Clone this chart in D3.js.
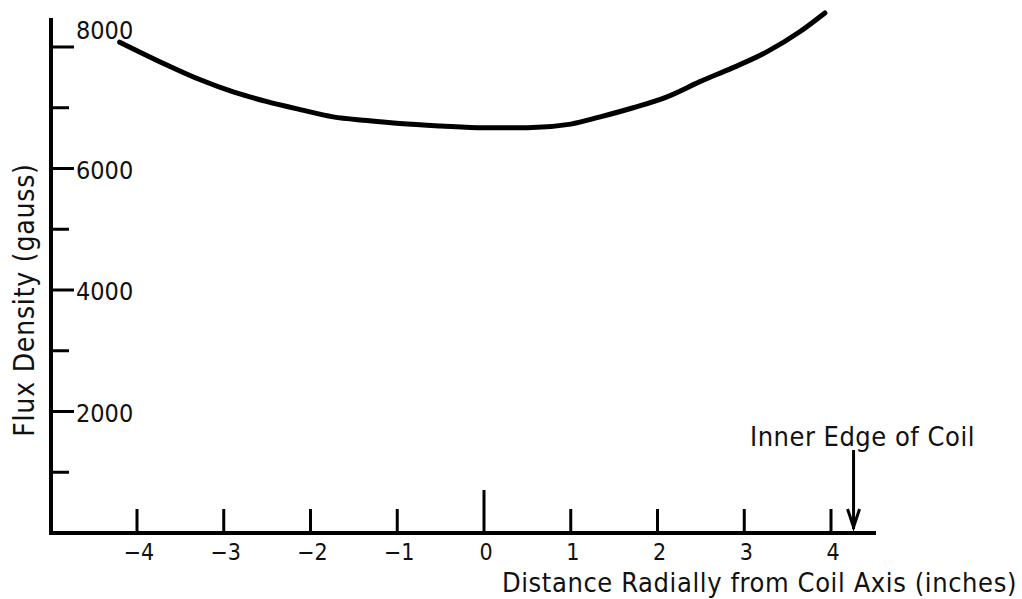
<!DOCTYPE html>
<html>
<head>
<script src="https://d3js.org/d3.v7.min.js"></script>
<style>
  body { margin: 0; background: #fff; }
  text { font-family: "DejaVu Sans Condensed", "DejaVu Sans", sans-serif; font-stretch: condensed; fill: #111; }
</style>
</head>
<body>
<div id="chart"></div>
<script>
// values
var distance = [-4.2, -3.65, -3.27, -2.89, -2.5, -2.12, -1.74, -1.35, -0.97, -0.5, 0, 0.5, 1.0, 1.34, 1.72, 2.11, 2.49, 2.87, 3.26, 3.64, 3.93];
var flux = [8080, 7700, 7460, 7260, 7100, 6970, 6850, 6790, 6740, 6700, 6670, 6670, 6730, 6850, 7000, 7180, 7430, 7660, 7920, 8250, 8560];
var xTicks = [-4, -3, -2, -1, 0, 1, 2, 3, 4];
var yMajor = [2000, 4000, 6000, 8000];
var yMinor = [1000, 3000, 5000, 7000];
var coilEdge = 4.26;

var width = 1022, height = 599;

var svg = d3.select("#chart")
  .append("svg")
  .attr("width", width)
  .attr("height", height);

var x = d3.scaleLinear().domain([-4, 4]).range([137, 831]);
var y = d3.scaleLinear().domain([0, 8000]).range([533, 47]);

// y axis line
svg.append("line")
  .attr("x1", 51).attr("x2", 51)
  .attr("y1", 18).attr("y2", y(0) + 2)
  .attr("stroke", "#000").attr("stroke-width", 4);

// x axis line
svg.append("line")
  .attr("x1", 49).attr("x2", 876)
  .attr("y1", y(0)).attr("y2", y(0))
  .attr("stroke", "#000").attr("stroke-width", 4);

// y ticks
svg.selectAll(".ymaj")
  .data(yMajor).enter().append("line")
  .attr("x1", 51).attr("x2", 74)
  .attr("y1", function(d) { return y(d); })
  .attr("y2", function(d) { return y(d); })
  .attr("stroke", "#000").attr("stroke-width", 3);

svg.selectAll(".ymin")
  .data(yMinor).enter().append("line")
  .attr("x1", 51).attr("x2", 69)
  .attr("y1", function(d) { return y(d); })
  .attr("y2", function(d) { return y(d); })
  .attr("stroke", "#000").attr("stroke-width", 3);

svg.selectAll(".ylab")
  .data(yMajor).enter().append("text")
  .attr("x", 76)
  .attr("y", function(d) { return y(d) + (d == 8000 ? -8 : 10); })
  .style("font-size", "25px")
  .text(function(d) { return d; });

// x ticks
svg.selectAll(".xt")
  .data(xTicks).enter().append("line")
  .attr("x1", function(d) { return x(d); })
  .attr("x2", function(d) { return x(d); })
  .attr("y1", y(0))
  .attr("y2", function(d) { return d == 0 ? y(0) - 43 : y(0) - 24; })
  .attr("stroke", "#000").attr("stroke-width", 3);

svg.selectAll(".xlab")
  .data(xTicks).enter().append("text")
  .attr("x", function(d) { return x(d) + 2; })
  .attr("y", 560)
  .attr("text-anchor", "middle")
  .style("font-size", "23px")
  .text(function(d) { return d < 0 ? "\u2212" + Math.abs(d) : d; });

// curve
var line = d3.line()
  .x(function(d, i) { return x(distance[i]); })
  .y(function(d) { return y(d); })
  .curve(d3.curveMonotoneX);

svg.append("path")
  .attr("d", line(flux))
  .attr("fill", "none")
  .attr("stroke", "#000")
  .attr("stroke-width", 5)
  .attr("stroke-linecap", "round");

// inner edge of coil marker
var ax = x(coilEdge);
svg.append("line")
  .attr("x1", ax).attr("x2", ax)
  .attr("y1", 450).attr("y2", y(0) - 4)
  .attr("stroke", "#000").attr("stroke-width", 3);
svg.append("path")
  .attr("d", "M" + (ax - 6) + "," + (y(0) - 24) + "L" + ax + "," + (y(0) - 6) + "L" + (ax + 6) + "," + (y(0) - 24))
  .attr("fill", "none").attr("stroke", "#000").attr("stroke-width", 3);

svg.append("text")
  .attr("x", 750).attr("y", 446)
  .style("font-size", "27px")
  .style("letter-spacing", "0.5px")
  .text("Inner Edge of Coil");

// axis titles
svg.append("text")
  .attr("x", 1017).attr("y", 592)
  .attr("text-anchor", "end")
  .style("font-size", "27px")
  .style("letter-spacing", "0.6px")
  .text("Distance Radially from Coil Axis (inches)");

svg.append("text")
  .attr("transform", "translate(34,300) rotate(-90)")
  .attr("text-anchor", "middle")
  .style("font-size", "28px")
  .style("letter-spacing", "0.8px")
  .text("Flux Density (gauss)");
</script>
</body>
</html>
